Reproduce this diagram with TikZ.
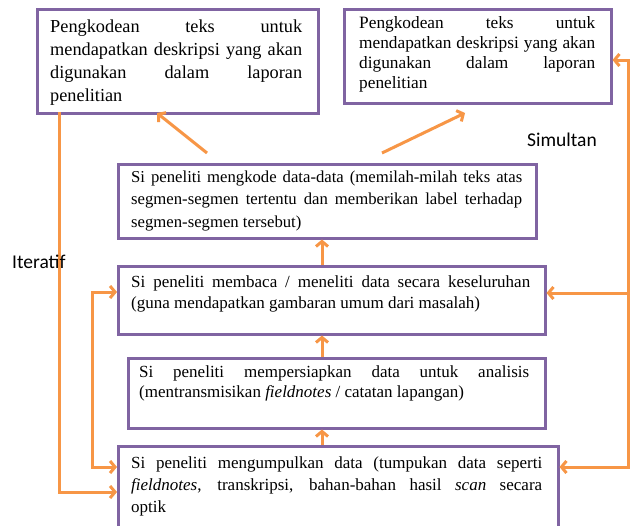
\documentclass[tikz,border=0pt]{standalone}
\usepackage{fontspec}
\setmainfont{Liberation Serif}
\newfontfamily\calfont{Carlito}
\usetikzlibrary{arrows.meta,calc,shadows}
\definecolor{boxpurple}{HTML}{8064A2}
\definecolor{arrorange}{HTML}{F79646}
\hyphenpenalty=10000
\exhyphenpenalty=10000
\tolerance=9999
\begin{document}
\begin{tikzpicture}[x=1pt,y=-1pt,
  box/.style={draw=boxpurple, line width=2.5pt, fill=white, anchor=north west, inner sep=0pt,
    drop shadow={shadow xshift=1pt, shadow yshift=-1.5pt, opacity=0.25}},
  txt/.style={anchor=base west, inner sep=0pt, align=justify},
  lbl/.style={font=\calfont\fontsize{19.5}{23}\selectfont, inner sep=0pt, anchor=west},
  line/.style={draw=arrorange, line width=3pt},
  arr/.style={line, -{Straight Barb[length=5pt,width=12pt]}},
  arr2/.style={line, {Straight Barb[length=5pt,width=12pt]}-{Straight Barb[length=5pt,width=12pt]}}]
\useasboundingbox (0,0) rectangle (632,525);
\fill[white] (0,0) rectangle (632,525);

% boxes
\node[box, minimum width=281pt, minimum height=104pt] (b1) at (36,8) {};
\node[box, minimum width=267pt, minimum height=94pt] (b2) at (343,8) {};
\node[box, minimum width=418pt, minimum height=74pt] (b3) at (117,163) {};
\node[box, minimum width=427pt, minimum height=68pt] (b4) at (117,265) {};
\node[box, minimum width=417pt, minimum height=70pt] (b5) at (127,357) {};
\node[box, minimum width=440pt, minimum height=100pt] (b6) at (117,445) {};

% texts
\node[txt, text width=252pt, font=\fontsize{18.3}{23}\selectfont] (t1) at (50,32)
  {Pengkodean teks untuk\linebreak mendapatkan deskripsi yang akan\linebreak digunakan dalam laporan\linebreak penelitian};
\node[txt, text width=236pt, font=\fontsize{17.3}{20}\selectfont] (t2) at (359,28)
  {Pengkodean teks untuk\linebreak mendapatkan deskripsi yang akan\linebreak digunakan dalam laporan\linebreak penelitian};
\node[txt, text width=391pt, font=\fontsize{16.7}{22.5}\selectfont] (t3) at (131,182)
  {Si peneliti mengkode data-data (memilah-milah teks atas\linebreak segmen-segmen tertentu dan memberikan label terhadap\linebreak segmen-segmen tersebut)};
\node[txt, text width=399pt, font=\fontsize{17}{21.5}\selectfont] (t4) at (131,287)
  {Si peneliti membaca / meneliti data secara keseluruhan\linebreak (guna mendapatkan gambaran umum dari masalah)};
\node[txt, text width=390pt, font=\fontsize{17}{20}\selectfont] (t5) at (139,377)
  {Si peneliti mempersiapkan data untuk analisis\linebreak (mentransmisikan \textit{fieldnotes} / catatan lapangan)};
\node[txt, text width=411pt, font=\fontsize{17}{22}\selectfont] (t6) at (131,468)
  {Si peneliti mengumpulkan data (tumpukan data seperti\linebreak \textit{fieldnotes}, transkripsi, bahan-bahan hasil \textit{scan} secara\linebreak optik};

% helper coordinates
\coordinate (ax) at (322,0);
\coordinate (d1s) at (207,153);
\coordinate (d1e) at (157,113);
\coordinate (d2s) at (382,153);
\coordinate (d2e) at (465,113);
\coordinate (rt) at (628,60);
\coordinate (rm) at (628,293);
\coordinate (rb) at (628,467);
\coordinate (lt) at (59,112);
\coordinate (lb) at (59,492);
\coordinate (it) at (92,292);
\coordinate (ib) at (92,467);

% connectors
\draw[arr] (d1s) -- (d1e);
\draw[arr] (d2s) -- (d2e);
\draw[arr] (b4.north -| ax) -- (b3.south -| ax);
\draw[arr] (b5.north -| ax) -- (b4.south -| ax);
\draw[arr] (b6.north -| ax) -- (b5.south -| ax);
\draw[arr2] (rt -| b2.east) -- (rt) -- (rb) -- (rb -| b6.east);
\draw[arr] (rm) -- (rm -| b4.east);
\draw[arr] (lt) -- (lb) -- (lb -| b6.west);
\draw[arr2] (it -| b4.west) -- (it) -- (ib) -- (ib -| b6.west);

% labels
\node[lbl] (iter) at (12,262) {Iteratif};
\node[lbl] (sim) at (527,140) {Simultan};
\end{tikzpicture}
\end{document}
